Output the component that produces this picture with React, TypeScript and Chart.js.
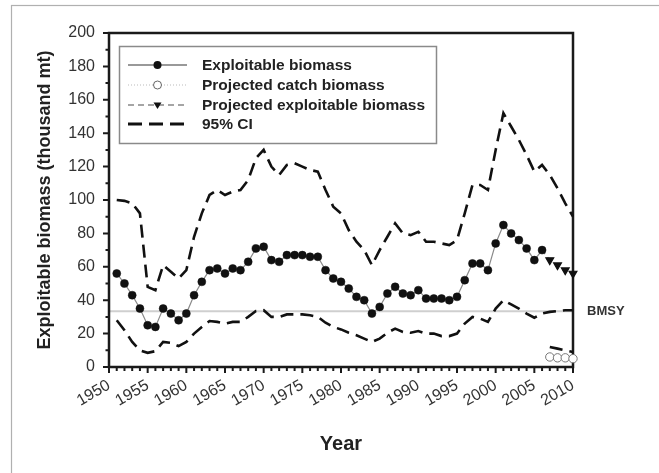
import React, { useEffect, useRef } from "react";
import { Chart, registerables } from "chart.js";

Chart.register(...registerables);

const FONT = "'Liberation Sans', Arial, Helvetica, sans-serif";

// Years 1951-2010
const years = [
  1951, 1952, 1953, 1954, 1955, 1956, 1957, 1958, 1959, 1960,
  1961, 1962, 1963, 1964, 1965, 1966, 1967, 1968, 1969, 1970,
  1971, 1972, 1973, 1974, 1975, 1976, 1977, 1978, 1979, 1980,
  1981, 1982, 1983, 1984, 1985, 1986, 1987, 1988, 1989, 1990,
  1991, 1992, 1993, 1994, 1995, 1996, 1997, 1998, 1999, 2000,
  2001, 2002, 2003, 2004, 2005, 2006, 2007, 2008, 2009, 2010,
];

const exploitableBiomass = [
  56, 50, 43, 35, 25, 24, 35, 32, 28, 32,
  43, 51, 58, 59, 56, 59, 58, 63, 71, 72,
  64, 63, 67, 67, 67, 66, 66, 58, 53, 51,
  47, 42, 40, 32, 36, 44, 48, 44, 43, 46,
  41, 41, 41, 40, 42, 52, 62, 62, 58, 74,
  85, 80, 76, 71, 64, 70, null, null, null, null,
];

const projectedCatch = [
  null, null, null, null, null, null, null, null, null, null,
  null, null, null, null, null, null, null, null, null, null,
  null, null, null, null, null, null, null, null, null, null,
  null, null, null, null, null, null, null, null, null, null,
  null, null, null, null, null, null, null, null, null, null,
  null, null, null, null, null, null, 6, 5.5, 5.5, 5,
];

const projectedExploitable = [
  null, null, null, null, null, null, null, null, null, null,
  null, null, null, null, null, null, null, null, null, null,
  null, null, null, null, null, null, null, null, null, null,
  null, null, null, null, null, null, null, null, null, null,
  null, null, null, null, null, null, null, null, null, null,
  null, null, null, null, null, 70, 64, 61, 58, 56,
];

const ciUpper = [
  100, 99.5, 98, 92, 48, 46, 61, 57, 53, 58,
  78, 92, 103, 106, 103, 105, 106, 112, 125, 130,
  120, 115, 121, 122, 120, 118, 117, 106, 96, 92,
  82, 75, 70, 61, 70, 78, 86, 80, 79, 81,
  75, 75, 74, 73, 76, 92, 109, 109, 106, 130,
  152, 144, 136, 127, 117, 121, 115, 107, 98, 90,
];

const ciLower = [
  28, 22, 15, 10, 8.5, 9.5, 15, 14.5, 12.5, 15,
  20, 24, 27.5, 27, 26, 27, 27, 30, 33.5, 34,
  30, 30, 31.5, 31.5, 31.5, 31, 30, 26.5, 24, 22.5,
  20.5, 19, 17, 15, 17, 20.5, 23, 21, 20.5, 21.5,
  20, 20, 18.5, 18.5, 20, 26, 30, 29, 27, 35,
  40, 37.5, 35, 32, 29.5, 32, 33, 33.5, 34, 34,
];

const ciCatch = [
  null, null, null, null, null, null, null, null, null, null,
  null, null, null, null, null, null, null, null, null, null,
  null, null, null, null, null, null, null, null, null, null,
  null, null, null, null, null, null, null, null, null, null,
  null, null, null, null, null, null, null, null, null, null,
  null, null, null, null, null, null, 12, 11, 10, 9,
];

const BMSY = 33.4;
const xTickLabels = ["1950", "1955", "1960", "1965", "1970", "1975", "1980", "1985", "1990", "1995", "2000", "2005", "2010"];
const legendLabels = ["Exploitable biomass", "Projected catch biomass", "Projected exploitable biomass", "95% CI"];

const pts = (vals: (number | null)[]) =>
  years.map((y, i) => ({ x: y, y: vals[i] })).filter((p) => p.y !== null) as { x: number; y: number }[];

function downTriangle(ctx: CanvasRenderingContext2D, x: number, y: number, r: number) {
  ctx.beginPath();
  ctx.moveTo(x - r, y - r * 0.6);
  ctx.lineTo(x + r, y - r * 0.6);
  ctx.lineTo(x, y + r);
  ctx.closePath();
  ctx.fill();
}

const decor = {
  id: "decor",
  beforeDraw(chart: any) {
    const ctx = chart.ctx;
    ctx.save();
    ctx.strokeStyle = "#b0b0b0";
    ctx.lineWidth = 1.2;
    ctx.strokeRect(11.5, 5.5, 720, 520);
    ctx.restore();
  },
  beforeDatasetsDraw(chart: any) {
    const ctx = chart.ctx;
    const { left, right } = chart.chartArea;
    const y = chart.scales.y.getPixelForValue(BMSY);
    ctx.save();
    ctx.strokeStyle = "#cfcfcf";
    ctx.lineWidth = 2;
    ctx.beginPath();
    ctx.moveTo(left, y);
    ctx.lineTo(right, y);
    ctx.stroke();
    ctx.fillStyle = "#333";
    ctx.font = `bold 13px ${FONT}`;
    ctx.textBaseline = "middle";
    ctx.textAlign = "left";
    ctx.fillText("BMSY", right + 14, y);
    ctx.restore();

    // plot frame + ticks
    const xs = chart.scales.x;
    const ys = chart.scales.y;
    const { top, bottom } = chart.chartArea;
    ctx.save();
    ctx.strokeStyle = "#1a1a1a";
    ctx.lineWidth = 2.5;
    ctx.strokeRect(left, top, right - left, bottom - top);
    ctx.lineWidth = 2;
    ctx.beginPath();
    for (let v = ys.min; v <= ys.max; v += 10) {
      const py = ys.getPixelForValue(v);
      const len = v % 20 === 0 ? 6 : 3.5;
      ctx.moveTo(left - len, py);
      ctx.lineTo(left, py);
    }
    for (let v = xs.min; v <= xs.max; v += 1) {
      const px = xs.getPixelForValue(v);
      const len = v % 5 === 0 ? 6 : 4;
      ctx.moveTo(px, bottom);
      ctx.lineTo(px, bottom + len);
    }
    ctx.stroke();
    ctx.restore();
  },
  afterDraw(chart: any) {
    const ctx = chart.ctx;
    const bx = 119.5, by = 46.5, bw = 317, bh = 97;
    ctx.save();
    ctx.fillStyle = "#fff";
    ctx.fillRect(bx, by, bw, bh);
    ctx.strokeStyle = "#8a8a8a";
    ctx.lineWidth = 1.5;
    ctx.strokeRect(bx, by, bw, bh);
    const rows = [65, 85, 105, 124];
    const x0 = 128, x1 = 187, xm = (x0 + x1) / 2;
    ctx.font = `bold 15.5px ${FONT}`;
    ctx.textBaseline = "middle";
    ctx.textAlign = "left";
    rows.forEach((y, i) => {
      ctx.save();
      if (i === 0) {
        ctx.strokeStyle = "#777";
        ctx.lineWidth = 1.5;
        ctx.setLineDash([]);
      } else if (i === 1) {
        ctx.strokeStyle = "#bbb";
        ctx.lineWidth = 1.2;
        ctx.setLineDash([1, 2]);
      } else if (i === 2) {
        ctx.strokeStyle = "#888";
        ctx.lineWidth = 1.5;
        ctx.setLineDash([6, 4]);
      } else {
        ctx.strokeStyle = "#111";
        ctx.lineWidth = 3;
        ctx.setLineDash([14, 7]);
      }
      ctx.beginPath();
      ctx.moveTo(x0, y);
      ctx.lineTo(x1, y);
      ctx.stroke();
      ctx.setLineDash([]);
      if (i === 0) {
        ctx.fillStyle = "#111";
        ctx.beginPath();
        ctx.arc(xm, y, 4, 0, Math.PI * 2);
        ctx.fill();
      } else if (i === 1) {
        ctx.fillStyle = "#fff";
        ctx.strokeStyle = "#666";
        ctx.lineWidth = 1;
        ctx.beginPath();
        ctx.arc(xm, y, 4, 0, Math.PI * 2);
        ctx.fill();
        ctx.stroke();
      } else if (i === 2) {
        ctx.fillStyle = "#111";
        downTriangle(ctx, xm, y, 4);
      }
      ctx.restore();
      ctx.fillStyle = "#222";
      ctx.fillText(legendLabels[i], 202, y + 1);
    });
    ctx.restore();
  },
};

export default function App() {
  const ref = useRef<HTMLCanvasElement | null>(null);
  useEffect(() => {
    if (!ref.current) return;
    const ciStyle = {
      borderColor: "#111",
      borderWidth: 2.6,
      borderDash: [13, 7],
      pointRadius: 0,
      fill: false,
      tension: 0,
      clip: false as any,
    };
    const chart = new Chart(ref.current, {
      type: "line",
      data: {
        datasets: [
          {
            label: legendLabels[0],
            data: pts(exploitableBiomass),
            borderColor: "#8a8a8a",
            borderWidth: 1.2,
            pointRadius: 4,
            pointBackgroundColor: "#111",
            pointBorderColor: "#111",
            pointBorderWidth: 0.5,
            clip: false as any,
          },
          {
            label: legendLabels[1],
            data: pts(projectedCatch),
            borderColor: "#bbb",
            borderWidth: 1,
            borderDash: [1, 2],
            pointRadius: 4.2,
            pointBackgroundColor: "#fff",
            pointBorderColor: "#777",
            pointBorderWidth: 1,
            clip: false as any,
          },
          {
            label: legendLabels[2],
            data: pts(projectedExploitable),
            borderColor: "#888",
            borderWidth: 1.2,
            borderDash: [5, 4],
            pointStyle: "triangle",
            pointRotation: 180,
            pointRadius: (c: any) => (c.dataIndex === 0 ? 0 : 4.5),
            pointBackgroundColor: "#111",
            pointBorderColor: "#111",
            clip: false as any,
          },
          { label: legendLabels[3], data: pts(ciUpper), ...ciStyle },
          { label: "lower", data: pts(ciLower), ...ciStyle },
          { label: "catch CI", data: pts(ciCatch), ...ciStyle },
        ] as any,
      },
      options: {
        animation: false,
        responsive: false,
        layout: { padding: { top: 33, right: 86, left: 0, bottom: 0 } },
        plugins: { legend: { display: false }, tooltip: { enabled: false } },
        scales: {
          x: {
            type: "linear",
            min: 1950,
            max: 2010,
            afterFit: (s: any) => {
              s.height = 106;
            },
            grid: { display: false, drawTicks: false },
            border: { display: false },
            ticks: {
              stepSize: 5,
              minRotation: 30,
              maxRotation: 30,
              autoSkip: false,
              padding: 9,
              color: "#333",
              font: { family: FONT, size: 16 },
              callback: (v: any) => xTickLabels.find((t) => Number(t) === v) ?? "",
            },
            title: {
              display: true,
              text: "Year",
              color: "#222",
              font: { family: FONT, size: 20, weight: "bold" },
              padding: { top: 0, bottom: 17 },
            },
          },
          y: {
            min: 0,
            max: 200,
            afterFit: (s: any) => {
              s.width = 109;
            },
            grid: { display: false, drawTicks: false },
            border: { display: false },
            ticks: {
              stepSize: 20,
              padding: 14,
              color: "#333",
              font: { family: FONT, size: 16 },
            },
            title: {
              display: true,
              text: "Exploitable biomass (thousand mt)",
              color: "#222",
              font: { family: FONT, size: 18, weight: "bold" },
              padding: { top: 34, bottom: 0 },
            },
          },
        },
      } as any,
      plugins: [decor],
    });
    return () => chart.destroy();
  }, []);
  return (
    <canvas
      ref={ref}
      width={659}
      height={473}
      style={{ position: "absolute", left: 0, top: 0, width: 659, height: 473 }}
    />
  );
}
